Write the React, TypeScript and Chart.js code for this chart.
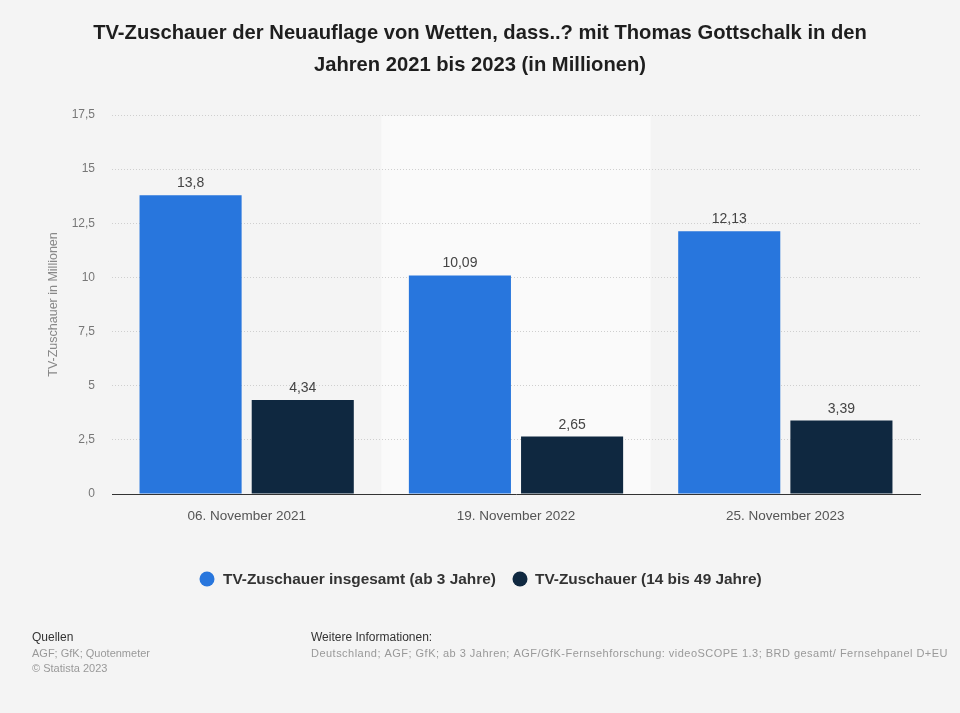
import React, { useEffect, useRef } from "react";
import { Chart, registerables } from "chart.js";

Chart.register(...registerables);

const categories = ["06. November 2021", "19. November 2022", "25. November 2023"];
const totalViewers = [13.8, 10.09, 12.13];
const youngViewers = [4.34, 2.65, 3.39];
const seriesLabels = ["TV-Zuschauer insgesamt (ab 3 Jahre)", "TV-Zuschauer (14 bis 49 Jahre)"];
const titleLines = [
  "TV-Zuschauer der Neuauflage von Wetten, dass..? mit Thomas Gottschalk in den",
  "Jahren 2021 bis 2023 (in Millionen)",
];
const yAxisTitle = "TV-Zuschauer in Millionen";
const sourceLines = ["AGF; GfK; Quotenmeter", "© Statista 2023"];
const infoLine =
  "Deutschland; AGF; GfK; ab 3 Jahren; AGF/GfK-Fernsehforschung: videoSCOPE 1.3; BRD gesamt/ Fernsehpanel D+EU";

const BLUE = "#2876dd";
const DARK = "#0f2840";
const FONT = "'Liberation Sans', Arial, sans-serif";

const fmt = (v: number) => String(v).replace(".", ",");

const decorPlugin = {
  id: "decor",
  beforeDraw(chart: any) {
    const { ctx, chartArea, scales } = chart;
    ctx.save();
    ctx.fillStyle = "#f4f4f4";
    ctx.fillRect(0, 0, chart.width, chart.height);
    const x = scales.x;
    const w = x.getPixelForValue(1) - x.getPixelForValue(0);
    const cx = x.getPixelForValue(1);
    ctx.fillStyle = "#fafafa";
    ctx.fillRect(cx - w / 2, chartArea.top + 1, w, chartArea.bottom - chartArea.top - 1);
    ctx.restore();
  },
  afterDraw(chart: any) {
    const { ctx } = chart;
    ctx.save();
    // title
    ctx.fillStyle = "#1e1e1e";
    ctx.font = `bold 20.2px ${FONT}`;
    ctx.textAlign = "center";
    ctx.textBaseline = "middle";
    titleLines.forEach((l, i) => ctx.fillText(l, 480, 33 + i * 32));

    // value labels
    ctx.font = `14px ${FONT}`;
    ctx.fillStyle = "#444";
    ctx.textBaseline = "alphabetic";
    chart.data.datasets.forEach((ds: any, di: number) => {
      const meta = chart.getDatasetMeta(di);
      meta.data.forEach((bar: any, i: number) => {
        ctx.fillText(fmt(ds.data[i]), bar.x, bar.y - 8);
      });
    });

    // legend
    ctx.font = `bold 15.4px ${FONT}`;
    ctx.textAlign = "left";
    ctx.textBaseline = "middle";
    const ly = 579;
    const circles = [207, 520];
    const texts = [223, 535];
    chart.data.datasets.forEach((ds: any, di: number) => {
      ctx.fillStyle = ds.backgroundColor;
      ctx.beginPath();
      ctx.arc(circles[di], ly, 7.5, 0, Math.PI * 2);
      ctx.fill();
      ctx.fillStyle = "#333";
      ctx.fillText(ds.label, texts[di], ly + 1);
    });

    // footer
    ctx.textBaseline = "middle";
    ctx.font = `12px ${FONT}`;
    ctx.fillStyle = "#333";
    ctx.fillText("Quellen", 32, 638);
    ctx.fillText("Weitere Informationen:", 311, 638);
    ctx.font = `11px ${FONT}`;
    ctx.fillStyle = "#999";
    sourceLines.forEach((l, i) => ctx.fillText(l, 32, 654 + i * 15));
    const target = 637;
    const mw = ctx.measureText(infoLine).width;
    const sp = (target - mw) / infoLine.length;
    (ctx as any).letterSpacing = `${sp}px`;
    ctx.fillText(infoLine, 311, 654);
    (ctx as any).letterSpacing = "0px";
    ctx.restore();
  },
};

export default function App() {
  const ref = useRef<HTMLCanvasElement>(null);
  useEffect(() => {
    document.body.style.margin = "0";
    const chart = new Chart(ref.current!, {
      type: "bar",
      data: {
        labels: categories,
        datasets: [
          {
            label: seriesLabels[0],
            data: totalViewers,
            backgroundColor: BLUE,
            categoryPercentage: 0.833,
            barPercentage: 0.91,
          },
          {
            label: seriesLabels[1],
            data: youngViewers,
            backgroundColor: DARK,
            categoryPercentage: 0.833,
            barPercentage: 0.91,
          },
        ],
      },
      options: {
        animation: false,
        responsive: false,
        devicePixelRatio: 1,
        layout: { padding: { top: 115, right: 40, bottom: 179, left: 1 } },
        plugins: {
          legend: { display: false },
          title: { display: false },
          tooltip: { enabled: false },
        },
        scales: {
          x: {
            grid: { display: false },
            border: { display: true, color: "#333", width: 1 },
            ticks: { color: "#555", font: { family: FONT, size: 13.5 }, padding: 6 },
            afterFit: (s: any) => {
              s.height = 40;
            },
          },
          y: {
            min: 0,
            max: 17.5,
            ticks: {
              stepSize: 2.5,
              color: "#777",
              font: { family: FONT, size: 12 },
              padding: 17,
              callback: (v: any) => fmt(Number(v)),
            },
            grid: { color: "#cfcfcf", drawTicks: false, lineWidth: 1 },
            border: { display: false, dash: [1, 2] },
            title: {
              display: true,
              text: yAxisTitle,
              color: "#888",
              font: { family: FONT, size: 12.5 },
              padding: { top: 45, bottom: 0 },
            },
            afterFit: (s: any) => {
              s.width = 111;
            },
          },
        },
      },
      plugins: [decorPlugin],
    } as any);
    return () => chart.destroy();
  }, []);
  return (
    <div style={{ position: "absolute", left: 0, top: 0, width: 960, height: 713 }}>
      <canvas ref={ref} width={960} height={713} style={{ width: 960, height: 713 }} />
    </div>
  );
}
